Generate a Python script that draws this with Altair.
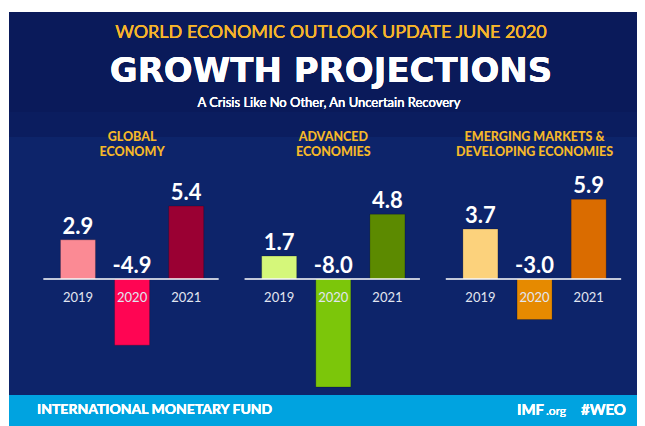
import altair as alt
import pandas as pd

# ---- data ----
group_keys = ["Global", "Advanced", "Emerging"]
group_titles = ["GLOBAL\nECONOMY", "ADVANCED\nECONOMIES", "EMERGING MARKETS &\nDEVELOPING ECONOMIES"]
years = ["2019", "2020", "2021"]
global_vals = [2.9, -4.9, 5.4]
advanced_vals = [1.7, -8.0, 4.8]
emerging_vals = [3.7, -3.0, 5.9]

bar_colors = [
    "#fb8a94", "#ff0553", "#9a0033",
    "#d5f77a", "#7cc60a", "#5c8a00",
    "#fcd27c", "#e68a00", "#da6c00",
]

rows = []
for gi, (g, vals) in enumerate(zip(group_keys, [global_vals, advanced_vals, emerging_vals])):
    for yi, (y, v) in enumerate(zip(years, vals)):
        rows.append({"group": g, "gi": gi, "year": y, "yi": yi, "value": v,
                     "key": f"{g}-{y}", "label": f"{v:.1f}"})
df = pd.DataFrame(rows)
df_titles = pd.DataFrame({"group": group_keys, "gi": list(range(len(group_keys))),
                          "title": group_titles})

W, H = 628, 414
NAVY = "#0a1a5a"
GSTEP = 3.718      # distance between panels, in bar slots
SLOT_PX = 55.0     # one bar slot in pixels
X0 = 65.0          # pixel position of the first bar centre
Y0 = 267.0         # pixel position of the zero line
PX_PER_UNIT = 13.5

x_scale = alt.Scale(domain=[-X0 / SLOT_PX, (W - X0) / SLOT_PX], zero=False, nice=False)
y_scale = alt.Scale(domain=[-(H - Y0) / PX_PER_UNIT, Y0 / PX_PER_UNIT], zero=False, nice=False)

slot_expr = f"datum.gi * {GSTEP} + datum.yi"

bg1 = alt.Chart(df_titles).mark_rect(color="#0b1d5f").encode(
    x=alt.value(0), x2=alt.value(W), y=alt.value(100), y2=alt.value(125))
bg2 = alt.Chart(df_titles).mark_rect(color="#0d246a").encode(
    x=alt.value(0), x2=alt.value(W), y=alt.value(125), y2=alt.value(383))
footer = alt.Chart(df_titles).mark_rect(color="#00a3e0").encode(
    x=alt.value(0), x2=alt.value(W), y=alt.value(383), y2=alt.value(H))

def txt(text, x, y, font="Lato", **kw):
    return alt.Chart(df_titles).mark_text(text=text, font=font, **kw).encode(
        x=alt.value(x), y=alt.value(y))

h1 = txt("WORLD ECONOMIC OUTLOOK UPDATE JUNE 2020", 322, 21, fontSize=18,
         color="#f6b52a", baseline="middle")
h2 = txt("GROWTH PROJECTIONS", 322, 60, font="DejaVu Sans", fontSize=34,
         fontWeight="bold", color="white", baseline="middle")
h3 = txt("A Crisis Like No Other, An Uncertain Recovery", 320, 91, fontSize=13,
         color="white", baseline="middle")
f1 = txt("INTERNATIONAL MONETARY FUND", 28, 398, fontSize=14, fontWeight="bold",
         color="white", baseline="middle", align="left")
f2 = txt("IMF", 508, 398, fontSize=15, fontWeight="bold",
         color="white", baseline="middle", align="left")
f3 = txt(".org", 537, 399, fontSize=12, color="white", baseline="middle", align="left")
f4 = txt("#WEO", 617, 398, fontSize=15, fontWeight="bold",
         color="white", baseline="middle", align="right")

titles = alt.Chart(df_titles).transform_calculate(
    cx=f"datum.gi * {GSTEP} + 1"
).mark_text(
    font="Lato", fontWeight=900, fontSize=12.5, color="#f5b829", lineBreak="\n",
    lineHeight=14.5, baseline="middle"
).encode(x=alt.X("cx:Q", scale=x_scale, axis=None), y=alt.value(125), text="title:N")

bars = alt.Chart(df).transform_calculate(slot=slot_expr).mark_bar(
    width=35, stroke="black", strokeOpacity=0.25, strokeWidth=0.8
).encode(
    x=alt.X("slot:Q", scale=x_scale, axis=None),
    y=alt.Y("value:Q", scale=y_scale, axis=None),
    color=alt.Color("key:N", scale=alt.Scale(domain=list(df["key"]), range=bar_colors),
                    legend=None),
)

base_line = alt.Chart(df_titles).transform_calculate(
    a=f"datum.gi * {GSTEP} - 0.64", b=f"datum.gi * {GSTEP} + 2.6", zero="0"
).mark_rule(color="white", strokeWidth=1.5).encode(
    x=alt.X("a:Q", scale=x_scale, axis=None), x2="b:Q",
    y=alt.Y("zero:Q", scale=y_scale, axis=None))

values = alt.Chart(df).transform_calculate(
    slot=slot_expr, pos="max(datum.value, 0)"
).mark_text(font="Lato", fontWeight="bold", fontSize=22, color="white",
            baseline="alphabetic", dy=-6).encode(
    x=alt.X("slot:Q", scale=x_scale, axis=None),
    y=alt.Y("pos:Q", scale=y_scale, axis=None),
    text="label:N",
)

year_labels = alt.Chart(df).transform_calculate(slot=slot_expr).mark_text(
    font="Lato", fontSize=13, color="#e2e6f0", baseline="middle"
).encode(x=alt.X("slot:Q", scale=x_scale, axis=None), y=alt.value(286), text="year:N")

chart = alt.layer(
    bg1, bg2, footer, h1, h2, h3, f1, f2, f3, f4, titles, bars, base_line, values, year_labels
).properties(
    width=W, height=H,
    padding={"left": 1, "top": 4, "right": 0, "bottom": 0},
    autosize=alt.AutoSizeParams(type="none"),
    background="white",
).configure_view(fill=NAVY, strokeWidth=0)

chart.save("out.html", embed_options={"renderer": "svg", "actions": False})
